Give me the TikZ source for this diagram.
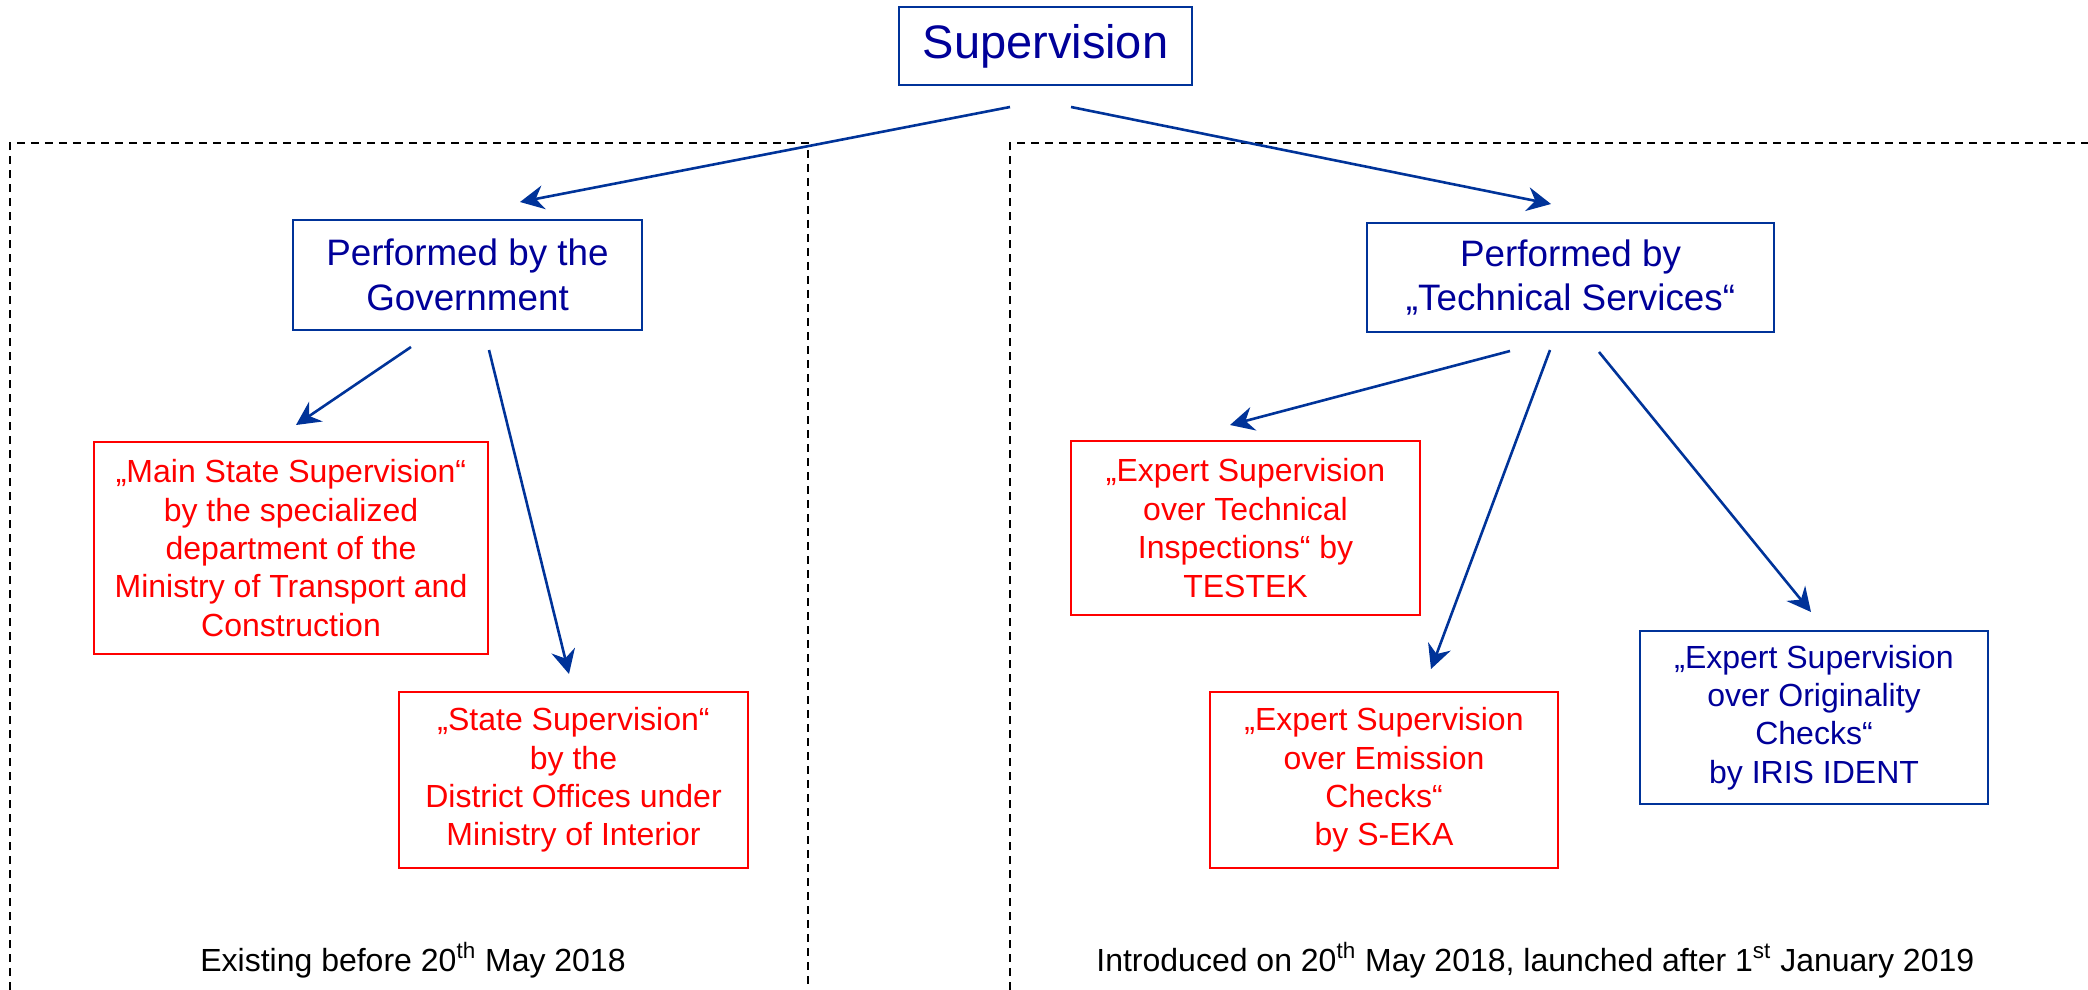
\documentclass[tikz,border=0pt]{standalone}
\usepackage{fontspec}
\setmainfont{Liberation Sans}
\usetikzlibrary{arrows.meta}
\definecolor{navy}{RGB}{0,0,153}
\definecolor{frameblue}{RGB}{0,51,153}
\definecolor{alertred}{RGB}{255,0,0}
\tikzset{
	bluebox/.style={draw=frameblue,line width=1pt,text=navy,align=center,inner sep=0pt},
	redbox/.style={draw=alertred,line width=1pt,text=alertred,align=center,inner sep=0pt},
	small/.style={font=\fontsize{16}{19.2}\selectfont},
	arr/.style={draw=frameblue,line width=1.3pt,-{Stealth[length=12pt,width=12pt,inset=4pt]}},
	zoneline/.style={dashed,dash pattern=on 4pt off 3pt,line width=1pt}
}
\begin{document}
\begin{tikzpicture}[x=0.5pt,y=-0.5pt]
		\useasboundingbox(0,0)rectangle(2088,990);
		% the two periods
		\draw[zoneline](10,990)--(10,143)--(808,143)--(808,990);
		\draw[zoneline](1010,990)--(1010,143)--(2088,143);
		\node[bluebox,minimum width=146.5pt,minimum height=39pt,font=\fontsize{23.5}{28}\selectfont](sup)at(1045.5,46){Supervision};
		\node[bluebox,minimum width=174.5pt,minimum height=55pt,font=\fontsize{18.4}{22.4}\selectfont](gov)at(467.5,275){Performed by the\\Government};
		\node[bluebox,minimum width=203.5pt,minimum height=54.5pt,font=\fontsize{18.4}{22.4}\selectfont](tech)at(1570.5,277.5){Performed by\\„Technical Services“};
		\node[redbox,small,minimum width=197pt,minimum height=106pt](main)at(291,548){„Main State Supervision“\\by the specialized\\department of the\\Ministry of Transport and\\Construction};
		\node[redbox,small,minimum width=174.5pt,minimum height=88pt](state)at(573.5,780){„State Supervision“\\by the\\District Offices under\\Ministry of Interior};
		\node[redbox,small,minimum width=174.5pt,minimum height=87pt](testek)at(1245.5,528){„Expert Supervision\\over Technical\\Inspections“ by\\TESTEK};
		\node[redbox,small,minimum width=174pt,minimum height=88pt](seka)at(1384,780){„Expert Supervision\\over Emission\\Checks“\\by S-EKA};
		\node[bluebox,small,minimum width=174pt,minimum height=86.5pt](iris)at(1814,717.5){„Expert Supervision\\over Originality\\Checks“\\by IRIS IDENT};
		\node[small](before)at(413,960){Existing before 20\textsuperscript{th} May 2018};
		\node[small,inner sep=0pt,anchor=west](after)at(1096,960){Introduced on 20\textsuperscript{th} May 2018, launched after 1\textsuperscript{st} January 2019};
		\draw[arr]([shift={(-35.5,21)}]sup.south)--([shift={(52.5,-17)}]gov.north);
		\draw[arr]([shift={(25.5,21)}]sup.south)--([shift={(-19.5,-18)}]tech.north);
		\draw[arr]([shift={(-56.5,16)}]gov.south)--([shift={(5,-16)}]main.north);
		\draw[arr]([shift={(21.5,19)}]gov.south)--([shift={(-4.5,-17)}]state.north);
		\draw[arr]([shift={(-60.5,18)}]tech.south)--([shift={(-15.5,-15)}]testek.north);
		\draw[arr]([shift={(-20.5,17)}]tech.south)--([shift={(47,-22)}]seka.north);
		\draw[arr]([shift={(28.5,19)}]tech.south)--([shift={(-3,-18)}]iris.north);
	\end{tikzpicture}
\end{document}
